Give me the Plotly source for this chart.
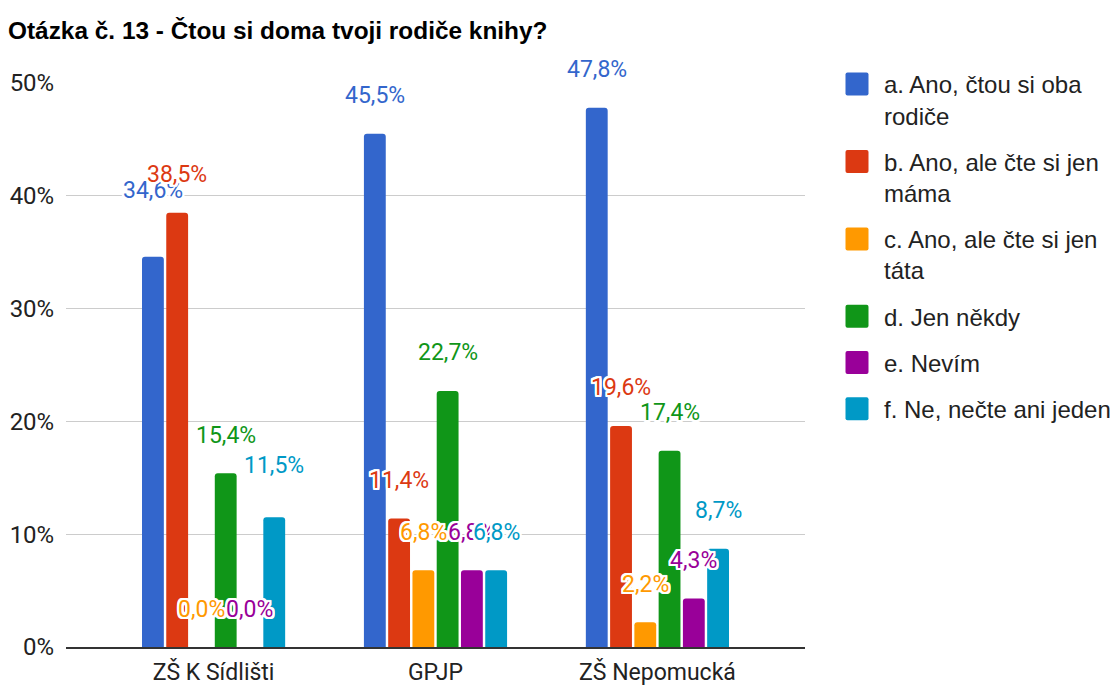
import plotly.graph_objects as go

# ---- data ----
categories = ["ZŠ K Sídlišti", "GPJP", "ZŠ Nepomucká"]
series_names = [
    "a. Ano, čtou si oba<br>rodiče",
    "b. Ano, ale čte si jen<br>máma",
    "c. Ano, ale čte si jen<br>táta",
    "d. Jen někdy",
    "e. Nevím",
    "f. Ne, nečte ani jeden",
]
a_values = [34.6, 45.5, 47.8]
b_values = [38.5, 11.4, 19.6]
c_values = [0.0, 6.8, 2.2]
d_values = [15.4, 22.7, 17.4]
e_values = [0.0, 6.8, 4.3]
f_values = [11.5, 6.8, 8.7]
series_values = [a_values, b_values, c_values, d_values, e_values, f_values]
y_tick_values = [0, 10, 20, 30, 40, 50]
y_tick_labels = ["0%", "10%", "20%", "30%", "40%", "50%"]
title_text = "Otázka č. 13 - Čtou si doma tvoji rodiče knihy?"

colors = ["#3366cc", "#dc3912", "#ff9900", "#109618", "#990099", "#0099c6"]

W, H = 1115, 686
BARGAP = 0.344
BARGROUPGAP = 0.1
n_series = len(series_values)

fig = go.Figure()
for i, (name, vals, col) in enumerate(zip(series_names, series_values, colors)):
    fig.add_trace(go.Bar(
        x=categories, y=vals, name=name, legendgroup=f"g{i}",
        marker=dict(color=col, line=dict(width=0), cornerradius=3),
        hoverinfo="x+y",
    ))

# data labels (white halo), placed above each bar
halo = ", ".join(f"{dx}px {dy}px 0 #fff" for dx in (-2, -1, 0, 1, 2)
                 for dy in (-2, -1, 0, 1, 2) if (dx, dy) != (0, 0))
slot = (1 - BARGAP) / n_series
extra_lift = {(0, 0): 28, (5, 0): 14}  # label-collision nudges (series, category)
for si, (vals, col) in enumerate(zip(series_values, colors)):
    for ci, v in enumerate(vals):
        fig.add_annotation(
            x=ci + (si - (n_series - 1) / 2) * slot, y=v,
            xref="x", yref="y",
            text=f"{v:.1f}%".replace(".", ","),
            showarrow=False, yanchor="middle", xanchor="center",
            yshift=38 + extra_lift.get((si, ci), 0),
            font=dict(family="Roboto", size=23, color=col, shadow=halo),
        )

fig.update_layout(
    width=W, height=H,
    paper_bgcolor="white", plot_bgcolor="white",
    margin=dict(l=66, r=310, t=83, b=39, autoexpand=False),
    barmode="group", bargap=BARGAP, bargroupgap=BARGROUPGAP,
    title=dict(
        text=title_text, x=8 / W, xref="container", xanchor="left",
        y=1 - 30 / H, yref="container", yanchor="middle",
        font=dict(family="Liberation Sans", size=24.4, color="#000000", weight="bold"),
    ),
    xaxis=dict(
        type="category", range=[-0.665, 2.665], automargin=False,
        showgrid=False, showline=True, linecolor="#333333", linewidth=1.5,
        ticks="outside", ticklen=4, tickcolor="rgba(0,0,0,0)",
        tickfont=dict(family="Roboto", size=23, color="#222222"),
        fixedrange=True,
    ),
    yaxis=dict(
        range=[0, 50], tickvals=y_tick_values, ticktext=y_tick_labels,
        automargin=False,
        showgrid=True, gridcolor="#cccccc", gridwidth=1.3,
        zeroline=False, showline=False,
        ticks="outside", ticklen=6, tickcolor="rgba(0,0,0,0)",
        tickfont=dict(family="Roboto", size=24, color="#222222"),
        fixedrange=True,
    ),
    legend=dict(
        xref="container", x=830 / W, xanchor="left",
        yref="container", y=1 - 62 / H, yanchor="top",
        font=dict(family="Liberation Sans", size=24, color="#222222"),
        valign="top", itemwidth=44, tracegroupgap=12,
        traceorder="grouped", bgcolor="rgba(0,0,0,0)",
        maxheight=560,
    ),
    showlegend=True,
)

post_script = """
document.body.style.margin = '0';
var gd = document.getElementById('{plot_id}');
function bigSwatches() {
  gd.querySelectorAll('.legend .legendpoints path').forEach(function (p) {
    p.setAttribute('d', 'M-9.5,-11.5H9.5A2,2 0 0 1 11.5,-9.5V9.5A2,2 0 0 1 9.5,11.5' +
      'H-9.5A2,2 0 0 1 -11.5,9.5V-9.5A2,2 0 0 1 -9.5,-11.5Z');
  });
}
bigSwatches();
gd.on('plotly_afterplot', bigSwatches);
"""

fig.write_html("out.html", post_script=post_script,
               config={"displayModeBar": False})
